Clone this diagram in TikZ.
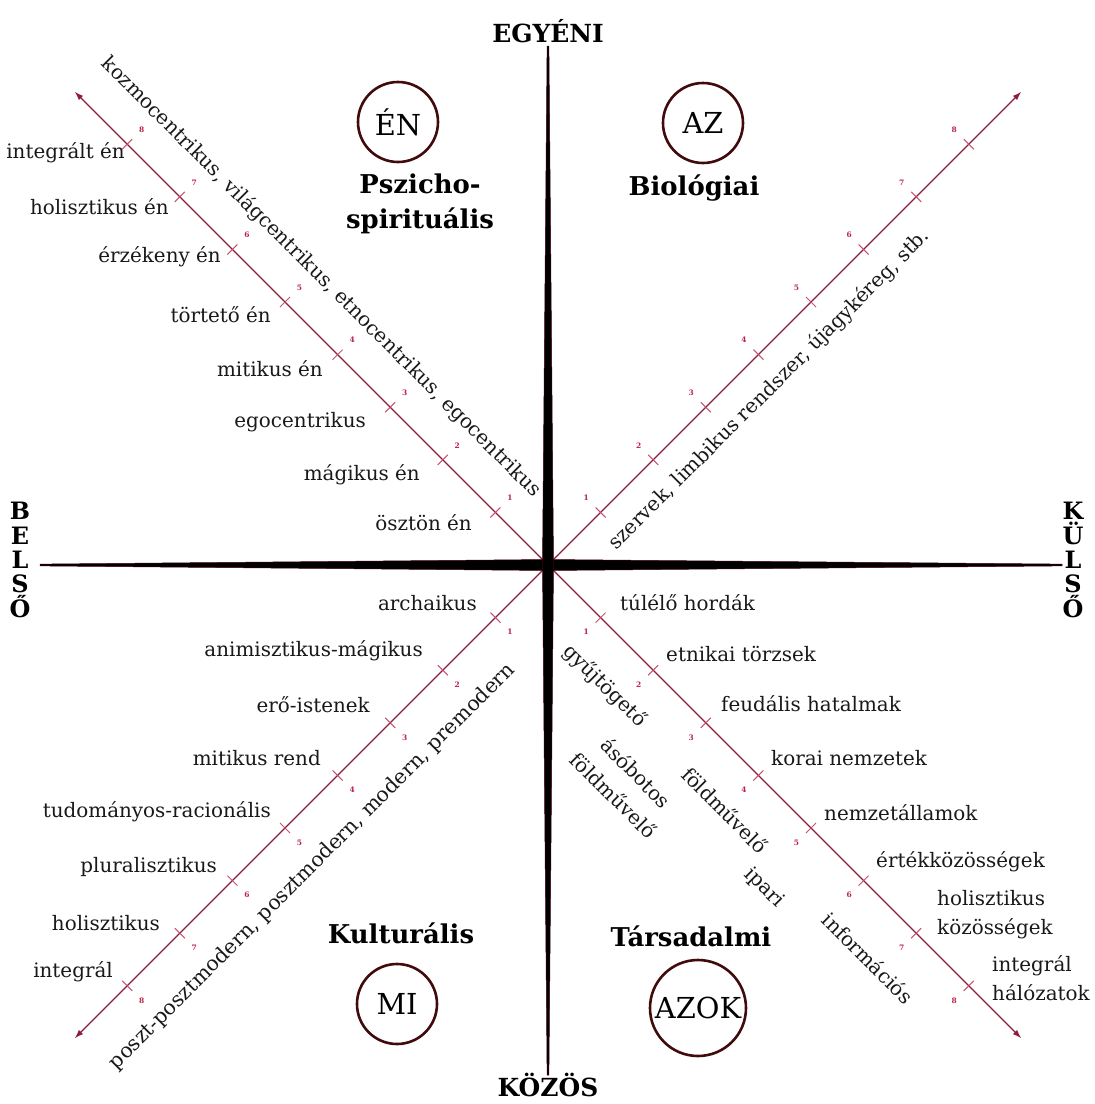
\documentclass[tikz,border=0pt]{standalone}
\usepackage{fontspec}
\setmainfont{DejaVu Serif}
\usetikzlibrary{arrows.meta, calc}

\definecolor{axisred}{RGB}{70,0,15}
\definecolor{diagred}{RGB}{140,30,60}
\definecolor{tickred}{RGB}{200,80,110}
\definecolor{numred}{RGB}{185,35,70}
\definecolor{ringred}{RGB}{65,10,12}
\definecolor{inktext}{RGB}{25,25,25}

\begin{document}
\begin{tikzpicture}[
  x=1bp, y=-1bp,
  lbl/.style={text=inktext, inner sep=0pt, font=\fontsize{20}{29}\selectfont},
  lblL/.style={lbl, anchor=east},
  lblR/.style={lbl, anchor=west, align=left},
  slant/.style={lbl, align=center, font=\fontsize{20}{32}\selectfont},
  title/.style={inner sep=0pt, align=center, font=\fontsize{26}{35}\selectfont\bfseries},
  pole/.style={inner sep=0pt, align=center, font=\fontsize{25}{25}\selectfont\bfseries},
  ring/.style={circle, draw=ringred, line width=2.6bp, inner sep=0pt,
               minimum size=80bp, font=\fontsize{29}{29}\selectfont},
  diag/.style={{Latex[length=9bp,width=6bp]}-{Latex[length=9bp,width=6bp]},
               draw=diagred, line width=1.3bp},
  tickmark/.style={draw=tickred, line width=1bp},
  ticknum/.style={text=numred, inner sep=0pt, font=\fontsize{7.5}{7.5}\selectfont\bfseries},
  cross/.style={fill=black, draw=axisred, line width=0.5bp},
]
  \useasboundingbox (0,0) rectangle (1095,1104);
  \fill[white] (0,0) rectangle (1095,1104);

  % --- frame points ---
  \coordinate (c) at (548,565);
  \coordinate (nw) at (74.6,91.6);
  \coordinate (ne) at (1021.4,91.6);
  \coordinate (sw) at (74.6,1038.4);
  \coordinate (se) at (1021.4,1038.4);
  \coordinate (w) at (40,565);
  \coordinate (e) at (1062,565);
  \coordinate (n) at (548,46);
  \coordinate (s) at (548,1075);

  % --- diagonal scales with ticks 1..8 ---
  \draw[diag] (nw) -- (se);
  \draw[diag] (sw) -- (ne);
  \foreach \dx/\dy/\nx/\ny in {-1/-1/1/-1, 1/-1/-1/-1, -1/1/1/1, 1/1/-1/1} {
    \foreach \k in {1,...,8} {
      \coordinate (t) at ($(c)+(\k*52.6*\dx,\k*52.6*\dy)$);
      \draw[tickmark] ($(t)+(5*\nx,5*\ny)$) -- ($(t)-(5*\nx,5*\ny)$);
      \node[ticknum] at ($(t)+(14.5*\nx,14.5*\ny)$) {\k};
    }
  }

  % --- tapered main cross ---
  \path[cross] ($(w)+(0,-0.9)$) -- ($(c)+(0,-5.5)$) -- ($(e)+(0,-0.9)$)
    -- ($(e)+(0,0.9)$) -- ($(c)+(0,5.5)$) -- ($(w)+(0,0.9)$) -- cycle;
  \path[cross] ($(n)+(-0.9,0)$) -- ($(c)+(-5.5,0)$) -- ($(s)+(-0.9,0)$)
    -- ($(s)+(0.9,0)$) -- ($(c)+(5.5,0)$) -- ($(n)+(0.9,0)$) -- cycle;

  % --- poles ---
  \node[pole] (egyeni) at (548,31) {EGYÉNI};
  \node[pole] (kozos) at (548,1085) {KÖZÖS};
  \node[pole, font=\fontsize{24}{24.5}\selectfont\bfseries] (belso) at (20,560) {B\\E\\L\\S\\Ő};
  \node[pole, font=\fontsize{24}{24.5}\selectfont\bfseries] (kulso) at (1073,560) {K\\Ü\\L\\S\\Ő};

  % --- quadrant rings and titles ---
  \node[ring] (en) at (398,122) {ÉN};
  \node[ring] (az) at (703,123) {AZ};
  \node[ring] (mi) at (397,1004) {MI};
  \node[ring, minimum size=96bp] (azok) at (698,1008) {AZOK};
  \node[title] (psy) at (420,204) {Pszicho-\\spirituális};
  \node[title] (bio) at (694,188) {Biológiai};
  \node[title] (kul) at (401,933) {Kulturális};
  \node[title] (tars) at (691,936) {Társadalmi};

  % --- upper left: self stages ---
  \node[lblL] (nw8) at (125,153) {integrált én};
  \node[lblL] (nw7) at (169,207) {holisztikus én};
  \node[lblL] (nw6) at (221,257) {érzékeny én};
  \node[lblL] (nw5) at (271,315) {törtető én};
  \node[lblL] (nw4) at (323,369) {mitikus én};
  \node[lblL] (nw3) at (366,422) {egocentrikus};
  \node[lblL] (nw2) at (420,475) {mágikus én};
  \node[lblL] (nw1) at (472,523) {ösztön én};
  \node[lbl, rotate=-45, anchor=east] (nwarc) at (538,494)
    {kozmocentrikus, világcentrikus, etnocentrikus, egocentrikus};

  % --- upper right ---
  \node[lbl, rotate=45, anchor=west] (nearc) at (612,547)
    {szervek, limbikus rendszer, újagykéreg, stb.};

  % --- lower left: cultural stages ---
  \node[lblL] (sw1) at (477,603) {archaikus};
  \node[lblL] (sw2) at (423,651) {animisztikus-mágikus};
  \node[lblL] (sw3) at (370,705) {erő-istenek};
  \node[lblL] (sw4) at (321,758) {mitikus rend};
  \node[lblL] (sw5) at (271,812) {tudományos-racionális};
  \node[lblL] (sw6) at (217,867) {pluralisztikus};
  \node[lblL] (sw7) at (160,923) {holisztikus};
  \node[lblL] (sw8) at (113,972) {integrál};
  \node[lbl, rotate=45, anchor=east, font=\fontsize{20.5}{29}\selectfont] (swarc) at (512,667)
    {poszt-posztmodern, posztmodern, modern, premodern};

  % --- lower right: social stages ---
  \node[lblR] (se1) at (620,603) {túlélő hordák};
  \node[lblR] (se2) at (666,654) {etnikai törzsek};
  \node[lblR] (se3) at (721,704) {feudális hatalmak};
  \node[lblR] (se4) at (771,758) {korai nemzetek};
  \node[lblR] (se5) at (824,813) {nemzetállamok};
  \node[lblR] (se6) at (876,862) {értékközösségek};
  \node[lblR] (se7) at (937,915) {holisztikus\\közösségek};
  \node[lblR] (se8) at (992,978) {integrál\\hálózatok};
  \node[slant, rotate=-45] (tb1) at (605,686) {gyűjtögető};
  \node[slant, rotate=-45] (tb2) at (625,784) {ásóbotos\\földművelő};
  \node[slant, rotate=-45] (tb3) at (725,810) {földművelő};
  \node[slant, rotate=-45] (tb4) at (764,888) {ipari};
  \node[slant, rotate=-45] (tb5) at (868,958) {információs};
\end{tikzpicture}
\end{document}
